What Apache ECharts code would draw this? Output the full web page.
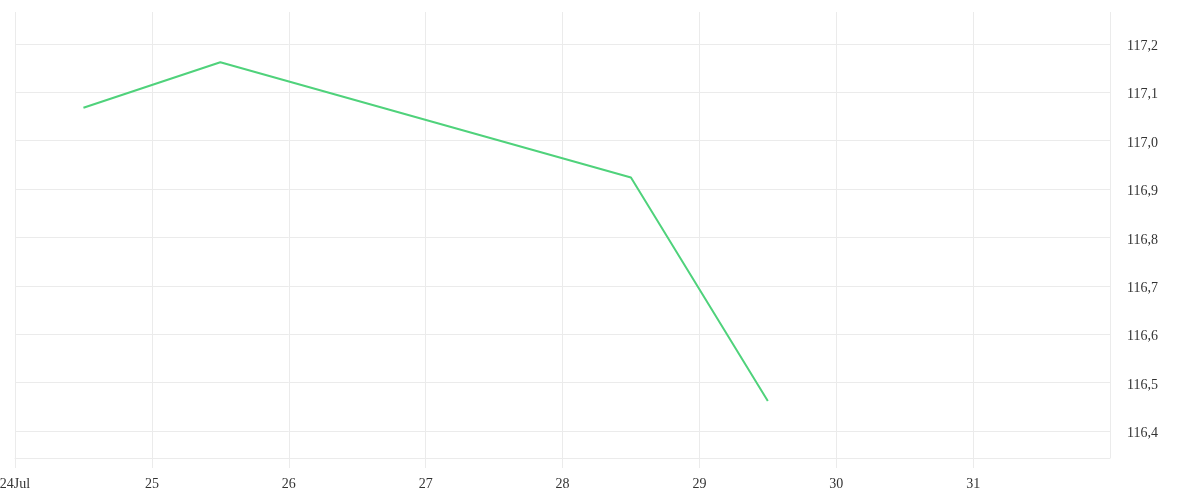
<!DOCTYPE html>
<html><head><meta charset="utf-8">
<script src="https://cdn.jsdelivr.net/npm/echarts@6/dist/echarts.min.js"></script>
<style>html,body{margin:0;padding:0;background:#fff}#c{width:1200px;height:500px}</style>
</head><body><div id="c"></div>
<script>
const dates = ['2025-07-24T12:00:00Z','2025-07-25T12:00:00Z','2025-07-28T12:00:00Z','2025-07-29T12:00:00Z'];
const values = [117.068, 117.162, 116.924, 116.462];
const xStart = '2025-07-24T00:00:00Z';
const xEnd = '2025-08-01T00:00:00Z';
const yMin = 116.344;
const yMax = 117.266;
const monthNames = ['Jan','Feb','Mar','Apr','May','Jun','Jul','Aug','Sep','Oct','Nov','Dec'];

const DAY = 86400000;
const font = 'Liberation Serif';
const chart = echarts.init(document.getElementById('c'));
chart.setOption({
  animation:false,
  grid:{left:15,right:90,top:12,bottom:42,containLabel:false,outerBoundsMode:'none'},
  xAxis:{
    type:'value',
    min:Date.parse(xStart), max:Date.parse(xEnd), interval:DAY,
    axisLine:{show:true,lineStyle:{color:'#ebebeb'}},
    axisTick:{show:true,length:10,lineStyle:{color:'#ebebeb'}},
    splitLine:{show:true,lineStyle:{color:'#ebebeb'}},
    axisLabel:{
      showMaxLabel:false, margin:19, color:'#333', fontFamily:font, fontSize:14,
      formatter:function(v){const d=new Date(v);const day=d.getUTCDate();
        return (v===Date.parse(xStart))?day+monthNames[d.getUTCMonth()]:String(day);}
    }
  },
  yAxis:{
    type:'value', position:'right', min:yMin, max:yMax, splitNumber:9,
    axisLine:{show:false}, axisTick:{show:false},
    splitLine:{show:true,showMaxLine:false,lineStyle:{color:'#ebebeb'}},
    axisLabel:{showMinLabel:false,showMaxLabel:false,margin:17,color:'#333',fontFamily:font,fontSize:14,
      verticalAlign:'top', lineHeight:5,
      formatter:function(v){return v.toFixed(1).replace('.',',');}}
  },
  series:[{
    type:'line', showSymbol:false, symbol:'none',
    lineStyle:{color:'#4fd27b',width:2},
    data:dates.map((d,i)=>[Date.parse(d),values[i]])
  }]
});
</script></body></html>
